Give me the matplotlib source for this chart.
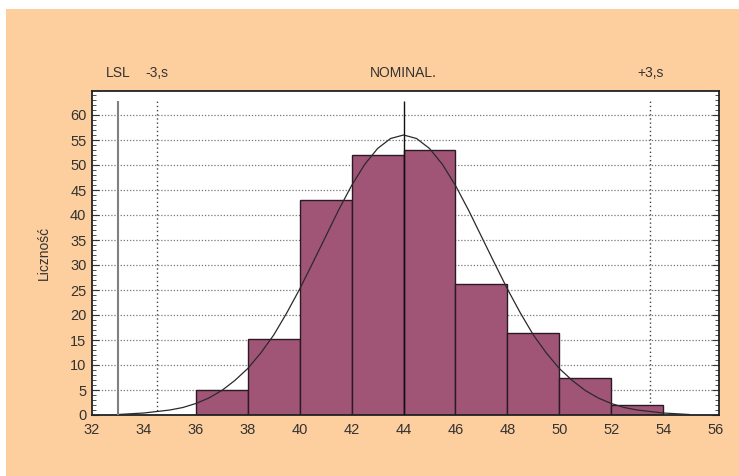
import matplotlib
matplotlib.use("Agg")
import matplotlib.pyplot as plt
import matplotlib.transforms as mtransforms
from matplotlib.patches import Rectangle
from matplotlib.ticker import MultipleLocator

# histogram bins (left edges) and counts
bin_left = [36, 38, 40, 42, 44, 46, 48, 50, 52]
counts = [5, 15.3, 43, 52, 53, 26.3, 16.4, 7.5, 2]
bin_width = 2

# fitted curve, points
curve_x = [33, 34, 35, 35.5, 36, 36.5, 37, 37.5, 38, 38.5, 39, 39.5, 40, 40.5, 41, 41.5, 42,
           42.5, 43, 43.5, 44, 44.5, 45, 45.5, 46, 46.5, 47, 47.5, 48, 48.5, 49, 49.5, 50,
           50.5, 51, 51.5, 52, 52.5, 53, 54, 55]
curve_y = [0.1, 0.4, 1.0, 1.5, 2.3, 3.4, 4.9, 6.9, 9.3, 12.4, 16.0, 20.4, 25.2, 30.4, 35.7,
           41.0, 45.9, 50.1, 53.3, 55.3, 56.0, 55.3, 53.3, 50.1, 45.9, 41.0, 35.7, 30.4, 25.2,
           20.4, 16.0, 12.4, 9.3, 6.9, 4.9, 3.4, 2.3, 1.5, 1.0, 0.4, 0.1]

# reference lines
ref_x = [33, 34.5, 44, 53.5]
ref_labels = ["LSL", "-3,s", "NOMINAL.", "+3,s"]
ref_top = 62.8

bg = "#fecf9e"
bar_col = "#a05577"

plt.rcParams['font.family'] = ['Liberation Sans', 'DejaVu Sans']

fig = plt.figure(figsize=(7.39, 4.76), dpi=100)
fig.patch.set_facecolor("white")
fig.patches.append(Rectangle((6 / 739, 0), 1, 1 - 9 / 476, transform=fig.transFigure,
                             facecolor=bg, edgecolor="none", zorder=-10))

ax = fig.add_axes([92 / 739, 1 - 415 / 476, (719 - 92) / 739, (415 - 91) / 476])
ax.set_facecolor("white")

ax.bar(bin_left, counts, width=bin_width, align="edge", color=bar_col,
       edgecolor="#2b1a24", linewidth=1.0, zorder=2)
ax.plot(curve_x, curve_y, color="#2a2a2a", linewidth=0.9, zorder=3,
        solid_joinstyle="round")

ax.vlines(ref_x[0], 0, ref_top, color="#808080", linewidth=1.5, zorder=4)
ax.vlines(ref_x[1], 0, ref_top, color="#444444", linewidth=1.0, linestyles=(0, (1, 2)), zorder=1)
ax.vlines(ref_x[2], 0, ref_top, color="#111111", linewidth=1.0, zorder=4)
ax.vlines(ref_x[3], 0, ref_top, color="#444444", linewidth=1.0, linestyles=(0, (1, 2)), zorder=1)

trans = mtransforms.blended_transform_factory(ax.transData, ax.transAxes)
for xv, lab in zip(ref_x, ref_labels):
    ax.text(xv, 1.056, lab, transform=trans, ha="center", va="center",
            fontsize=10, color="#333333")

ax.set_xlim(32, 56.15)
ax.set_ylim(0, 64.8)
ax.set_xticks(range(32, 57, 2))
ax.yaxis.set_major_locator(MultipleLocator(5))
ax.yaxis.set_minor_locator(MultipleLocator(1))
ax.set_yticks(range(0, 61, 5))
ax.tick_params(axis="x", length=0, pad=6, labelsize=10.5, colors="#333333")
ax.tick_params(axis="y", which="major", direction="in", length=5, left=True, right=True,
               labelsize=10.5, colors="#333333", pad=4)
ax.tick_params(axis="y", which="minor", direction="in", length=3, left=True, right=True,
               colors="#333333")

ax.grid(axis="y", which="major", color="#777777", linestyle=(0, (1, 1.5)), linewidth=0.9, zorder=0)
ax.set_axisbelow(True)

for s in ax.spines.values():
    s.set_color("#222222")
    s.set_linewidth(1.3)

ax.set_ylabel("Liczność", fontsize=10, color="#333333", labelpad=14)

fig.savefig("out.png", dpi=100, facecolor=fig.get_facecolor())
